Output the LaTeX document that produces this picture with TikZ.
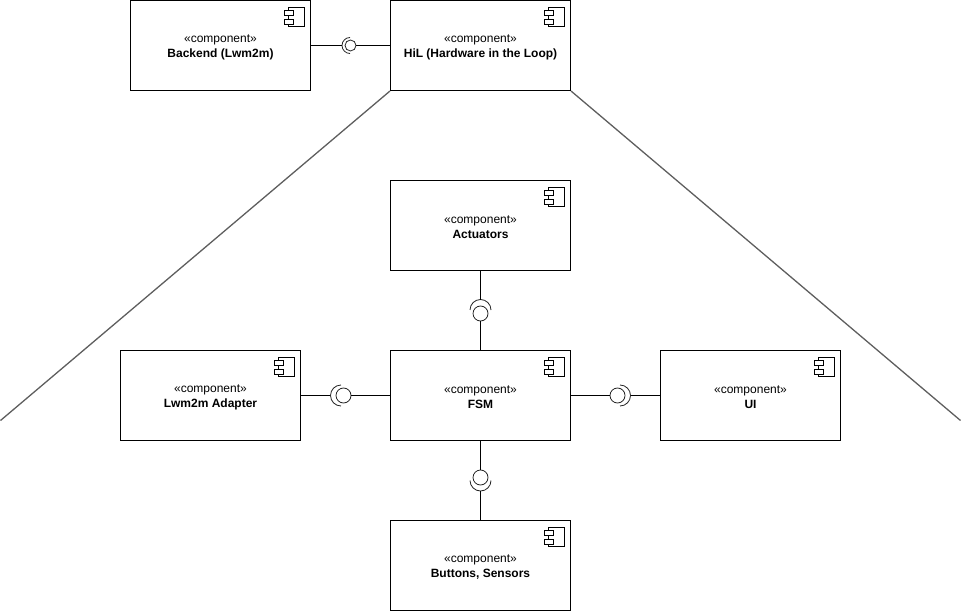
\documentclass[tikz,border=0pt]{standalone}
\usepackage{fontspec}
\setmainfont{Liberation Sans}
\usetikzlibrary{calc}
\definecolor{edgegray}{HTML}{5E5E5E}
\tikzset{
  comp/.style={draw=black,line width=1pt,minimum width=180pt,minimum height=90pt,inner sep=0pt,align=center,font=\fontsize{12pt}{15pt}\selectfont},
  ball/.style={circle,draw=black!85,line width=0.8pt,minimum size=15pt,inner sep=0pt},
  smallball/.style={circle,draw=black!85,line width=0.8pt,minimum size=11pt,inner sep=0pt},
  wire/.style={draw=black,line width=1pt},
  sock/.style={draw=black!85,line width=0.8pt},
  frameline/.style={draw=edgegray,line width=1.3pt},
  icon/.style={draw=black,line width=0.9pt,fill=white}
}
\newcommand{\compicon}[1]{%
  \draw[icon] ($(#1.north east)+(-23,7.5)$) rectangle ($(#1.north east)+(-7,26)$);
  \draw[icon] ($(#1.north east)+(-27,10.5)$) rectangle ($(#1.north east)+(-18,15.5)$);
  \draw[icon] ($(#1.north east)+(-27,19)$) rectangle ($(#1.north east)+(-18,24)$);
}
\newcommand{\stereo}{\rule{0pt}{11.5pt}«component»}
\begin{document}
\begin{tikzpicture}[x=1pt,y=-1pt]
\useasboundingbox (0,0) rectangle (963,612);
\node[comp] (backend) at (220.5,45.5) {\stereo\\\textbf{Backend (Lwm2m)}};
\node[comp] (hil) at (480.5,45.5) {\stereo\\\textbf{HiL (Hardware in the Loop)}};
\node[comp] (act) at (480.5,225.5) {\stereo\\\textbf{Actuators}};
\node[comp] (adapter) at (210.5,395.5) {\stereo\\\textbf{Lwm2m Adapter}};
\node[comp] (fsm) at (480.5,395.5) {\stereo\\\textbf{FSM}};
\node[comp] (ui) at (750.5,395.5) {\stereo\\\textbf{UI}};
\node[comp] (btn) at (480.5,565.5) {\stereo\\\textbf{Buttons, Sensors}};
\foreach \n in {backend,hil,act,adapter,fsm,ui,btn} {\compicon{\n}}
% frame lines
\coordinate (fl) at (0.5,420.5);
\coordinate (fr) at (960.5,420.5);
\draw[frameline] (hil.south west) -- (fl);
\draw[frameline] (hil.south east) -- (fr);
% Backend - HiL
\node[smallball] (b1) at (350.5,45.5) {};
\coordinate (s1) at (342,45.5);
\draw[sock] (350,37.5) arc[start angle=270,end angle=90,radius=8];
\draw[wire] (backend.east) -- (s1);
\draw[wire] (b1.east) -- (hil.west |- b1);
% Adapter - FSM
\node[ball] (b2) at (343.5,395.5) {};
\coordinate (s2) at (330,395.5);
\draw[sock] (341,385) arc[start angle=270,end angle=90,radius=10.5];
\draw[wire] (adapter.east) -- (s2);
\draw[wire] (b2.east) -- (fsm.west);
% FSM - UI
\node[ball] (b3) at (617.5,395.5) {};
\coordinate (s3) at (631,395.5);
\draw[sock] (620,385) arc[start angle=-90,end angle=90,radius=10.5];
\draw[wire] (fsm.east) -- (b3.west);
\draw[wire] (s3) -- (ui.west);
% FSM - Buttons
\node[ball] (b4) at (480.5,477.5) {};
\coordinate (s4) at (480.5,491);
\draw[sock] (470,480.5) arc[start angle=180,end angle=0,radius=10.5];
\draw[wire] (fsm.south) -- (b4.north);
\draw[wire] (s4) -- (btn.north);
% Actuators - FSM
\node[ball] (b5) at (480.5,313.5) {};
\coordinate (s5) at (480.5,300);
\draw[sock] (470,310) arc[start angle=180,end angle=360,radius=10.5];
\draw[wire] (act.south) -- (s5);
\draw[wire] (b5.south) -- (fsm.north);
\end{tikzpicture}
\end{document}
